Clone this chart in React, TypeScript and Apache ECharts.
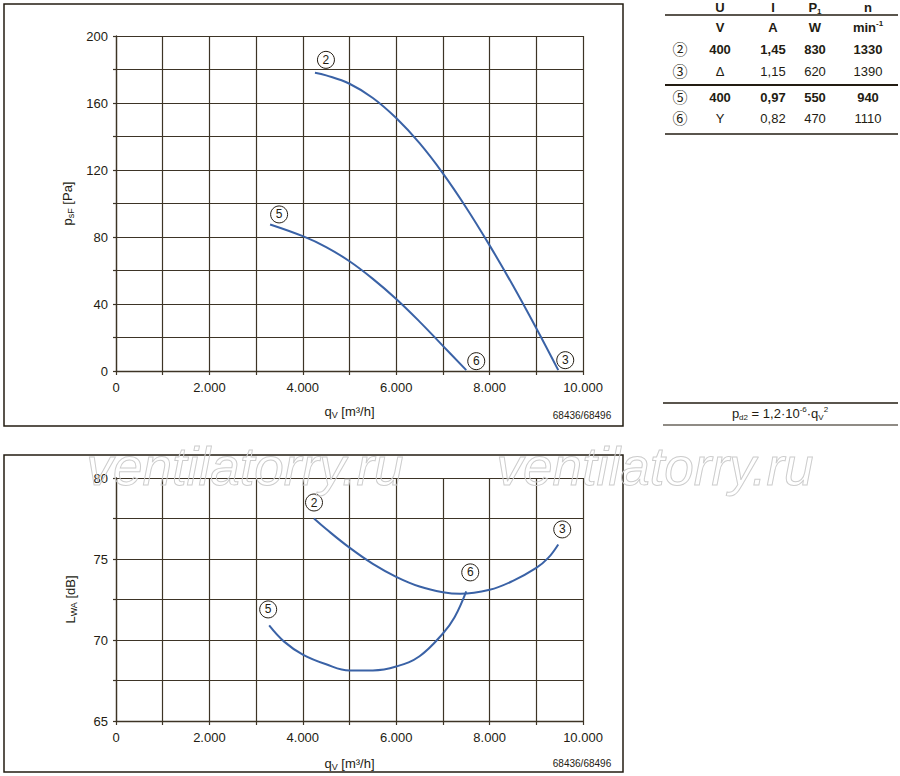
import React, { useEffect, useRef } from 'react';
import * as echarts from 'echarts';

// ---- data ----
const qCurve2Top = [4260, 4500, 5000, 5500, 6000, 6500, 7000, 7500, 8000, 8500, 9000, 9470];
const pCurve2Top = [178, 176.5, 171.5, 163, 151, 136, 118, 97.5, 75, 51, 25.5, 0.5];
const qCurve5Top = [3300, 4000, 4500, 5000, 5500, 6000, 6500, 7000, 7500];
const pCurve5Top = [87.5, 80.5, 74, 65.5, 55, 43, 29.5, 15, 0.5];

const qCurve2Bot = [4240, 4500, 5000, 5500, 6000, 6500, 7000, 7370, 8000, 8500, 9000, 9250, 9470];
const lCurve2Bot = [77.5, 76.85, 75.7, 74.7, 73.9, 73.3, 72.95, 72.85, 73.1, 73.65, 74.45, 75.05, 75.9];
const qCurve5Bot = [3280, 3600, 4000, 4500, 5000, 5500, 6000, 6500, 7000, 7250, 7500];
const lCurve5Bot = [70.9, 69.9, 69.1, 68.5, 68.12, 68.12, 68.36, 69.0, 70.4, 71.4, 73.0];

const tableMarks = ['②', '③', '⑤', '⑥'];
const tableU = ['400', 'Δ', '400', 'Y'];
const tableI = ['1,45', '1,15', '0,97', '0,82'];
const tableP = ['830', '620', '550', '470'];
const tableN = ['1330', '1390', '940', '1110'];
const tableBold = [true, false, true, false];

const drawingNo = '68436/68496';

const FONT = '"Liberation Sans", Arial, Helvetica, sans-serif';
const INK = '#231c12';
const GRIDC = '#3d3426';
const BLUE = '#3a62a6';

const zip = (a: number[], b: number[]) => a.map((v, i) => [v, b[i]]);
const fmtThousands = (v: number) => String(v).replace(/\B(?=(\d{3})+(?!\d))/g, '.');

function curve(name: string, xi: number, data: number[][], startLbl: string, endLbl: string, so: number[], eo: number[]) {
  return {
    type: 'line',
    name,
    xAxisIndex: xi,
    yAxisIndex: xi,
    data,
    smooth: 0.4,
    showSymbol: false,
    lineStyle: { color: BLUE, width: 2 },
    itemStyle: { color: BLUE },
    markPoint: {
      symbol: 'circle',
      symbolSize: 17,
      itemStyle: { color: '#fff', borderColor: INK, borderWidth: 1 },
      label: { show: true, position: 'inside', formatter: (p: any) => p.name, color: INK, fontSize: 12, fontFamily: FONT },
      data: [
        { name: startLbl, coord: data[0], symbolOffset: so },
        { name: endLbl, coord: data[data.length - 1], symbolOffset: eo },
      ],
    },
  };
}

export default function App() {
  const ref = useRef<HTMLDivElement>(null);
  useEffect(() => {
    const chart = echarts.init(ref.current!, null, { renderer: 'svg' });

    const xAxisBase = (gi: number) => ({
      type: 'value',
      gridIndex: gi,
      min: 0,
      max: 10000,
      interval: 1000,
      axisLine: { show: true, lineStyle: { color: GRIDC, width: 1.3 } },
      axisTick: { show: true, length: 4, lineStyle: { color: GRIDC, width: 1.2 } },
      splitLine: { show: true, lineStyle: { color: GRIDC, width: 1.2 } },
      axisLabel: {
        color: INK, fontSize: 13, fontFamily: FONT, margin: 10,
        formatter: (v: number) => (v % 2000 === 0 ? fmtThousands(v) : ''),
      },
      name: '{m|q}{s|V}{m| [m³/h]}',
      nameLocation: 'middle',
      nameGap: 32,
      nameTextStyle: {
        rich: {
          m: { fontSize: 13, fontFamily: FONT, color: INK, lineHeight: 16 },
          s: { fontSize: 9, fontFamily: FONT, color: INK, lineHeight: 10, verticalAlign: 'bottom' },
        },
      },
    });

    const yName = {
      nameLocation: 'middle',
      nameRotate: 90,
      nameGap: 38,
      nameTextStyle: {
        rich: {
          m: { fontSize: 13, fontFamily: FONT, color: INK, lineHeight: 16 },
          s: { fontSize: 9, fontFamily: FONT, color: INK, lineHeight: 10, verticalAlign: 'bottom' },
        },
      },
    };
    const yStyle = {
      axisLine: { show: true, lineStyle: { color: GRIDC, width: 1.3 } },
      axisTick: { show: true, length: 3, lineStyle: { color: GRIDC, width: 1.2 } },
      splitLine: { show: true, lineStyle: { color: GRIDC, width: 1.2 } },
    };

    const option: any = {
      animation: false,
      grid: [
        { left: 116, top: 36, width: 467, height: 335 },
        { left: 116, top: 478, width: 467, height: 243 },
      ],
      xAxis: [xAxisBase(0), { ...xAxisBase(1), nameGap: 34 }],
      yAxis: [
        {
          type: 'value', gridIndex: 0, min: 0, max: 200, interval: 20, ...yStyle, ...yName,
          axisLabel: { color: INK, fontSize: 13, fontFamily: FONT, margin: 8, formatter: (v: number) => (v % 40 === 0 ? String(v) : '') },
          name: '{m|p}{s|sF}{m| [Pa]}',
        },
        {
          type: 'value', gridIndex: 1, min: 65, max: 80, interval: 2.5, ...yStyle, ...yName,
          axisLabel: { color: INK, fontSize: 13, fontFamily: FONT, margin: 8, formatter: (v: number) => (v % 5 === 0 ? String(v) : '') },
          name: '{m|L}{s|WA}{m| [dB]}',
        },
      ],
      series: [
        curve('2-3 psF', 0, zip(qCurve2Top, pCurve2Top), '2', '3', [11, -13], [7, -10]),
        curve('5-6 psF', 0, zip(qCurve5Top, pCurve5Top), '5', '6', [9, -10], [10, -9]),
        curve('2-3 LWA', 1, zip(qCurve2Bot, lCurve2Bot), '2', '3', [0, -16], [4, -15]),
        curve('5-6 LWA', 1, zip(qCurve5Bot, lCurve5Bot), '5', '6', [-1, -16], [4, -19]),
      ],
      graphic: buildGraphics(),
    };
    chart.setOption(option);
    return () => chart.dispose();
  }, []);

  return <div ref={ref} style={{ position: 'absolute', left: 0, top: 0, width: 900, height: 776, background: '#fff' }} />;
}

function txt(x: number, y: number, text: string, opts: any = {}) {
  return {
    type: 'text', x, y, z: 50,
    style: {
      text, fontFamily: FONT, fontSize: 13, fill: INK, align: 'center', verticalAlign: 'middle', ...opts,
    },
  };
}
function hline(x1: number, x2: number, y: number, w = 1.3, color = INK) {
  return { type: 'line', z: 50, shape: { x1, y1: y, x2, y2: y }, style: { stroke: color, lineWidth: w } };
}

function buildGraphics() {
  const g: any[] = [];
  // frames
  g.push({ type: 'rect', z: 1, shape: { x: 4, y: 4, width: 619, height: 422 }, style: { fill: 'none', stroke: INK, lineWidth: 1.5 } });
  g.push({ type: 'rect', z: 1, shape: { x: 4, y: 455, width: 619, height: 317 }, style: { fill: 'none', stroke: INK, lineWidth: 1.5 } });
  // drawing numbers
  g.push(txt(582, 415, drawingNo, { fontSize: 10 }));
  g.push(txt(582, 763, drawingNo, { fontSize: 10 }));

  // table
  const cx = [680, 720, 773, 815, 868];
  const L = 665, R = 898;
  g.push(txt(cx[1], 7, 'U', { fontWeight: 'bold' }));
  g.push(txt(cx[2], 7, 'I', { fontWeight: 'bold' }));
  g.push({
    type: 'text', x: cx[3], y: 7, z: 50,
    style: {
      text: '{m|P}{s|1}', align: 'center', verticalAlign: 'middle',
      rich: {
        m: { fontSize: 13, fontWeight: 'bold', fontFamily: FONT, fill: INK, color: INK, lineHeight: 16 },
        s: { fontSize: 8, fontWeight: 'bold', fontFamily: FONT, fill: INK, color: INK, lineHeight: 12, verticalAlign: 'bottom' },
      },
    },
  });
  g.push(txt(cx[4], 7, 'n', { fontWeight: 'bold' }));
  g.push(hline(L, R, 15, 1.5));
  g.push(txt(cx[1], 27, 'V', { fontWeight: 'bold' }));
  g.push(txt(cx[2], 27, 'A', { fontWeight: 'bold' }));
  g.push(txt(cx[3], 27, 'W', { fontWeight: 'bold' }));
  g.push({
    type: 'text', x: cx[4], y: 27, z: 50,
    style: {
      text: '{m|min}{s|-1}', align: 'center', verticalAlign: 'middle',
      rich: {
        m: { fontSize: 13, fontWeight: 'bold', fontFamily: FONT, fill: INK, color: INK, lineHeight: 16 },
        s: { fontSize: 8, fontWeight: 'bold', fontFamily: FONT, fill: INK, color: INK, lineHeight: 10, verticalAlign: 'top' },
      },
    },
  });
  const rowY = [49, 71, 97, 118];
  tableMarks.forEach((m, i) => {
    const fw = tableBold[i] ? 'bold' : 'normal';
    const y = rowY[i];
    g.push(txt(cx[0], y, m, { fontFamily: FONT + ', "Noto Sans CJK JP", "DejaVu Sans"', fontSize: 15 }));
    g.push(txt(cx[1], y, tableU[i], { fontWeight: fw }));
    g.push(txt(cx[2], y, tableI[i], { fontWeight: fw }));
    g.push(txt(cx[3], y, tableP[i], { fontWeight: fw }));
    g.push(txt(cx[4], y, tableN[i], { fontWeight: fw }));
  });
  g.push(hline(L, R, 85, 1.8));
  g.push(hline(L, R, 134, 1.5));

  // formula
  g.push(hline(663, 898, 403, 1.3));
  g.push(hline(663, 898, 425, 1.3, '#6a655c'));
  g.push({
    type: 'text', x: 780, y: 413, z: 50,
    style: {
      text: '{m|p}{s|d2}{m| = 1,2·10}{u|-6}{m|·q}{s|V}{u|2}', align: 'center', verticalAlign: 'middle',
      rich: {
        m: { fontSize: 13, fontFamily: FONT, fill: INK, color: INK, lineHeight: 16 },
        s: { fontSize: 8, fontFamily: FONT, fill: INK, color: INK, lineHeight: 10, verticalAlign: 'bottom' },
        u: { fontSize: 8, fontFamily: FONT, fill: INK, color: INK, lineHeight: 10, verticalAlign: 'top' },
      },
    },
  });

  // watermarks
  [245, 655].forEach((x) => {
    g.push({
      type: 'text', x, y: 466, z: 100,
      style: {
        text: 'ventilatorry.ru', fontFamily: FONT, fontSize: 53, fontStyle: 'italic',
        fill: 'rgba(255,255,255,0)', stroke: '#cdcdcd', lineWidth: 1, align: 'center', verticalAlign: 'middle',
      },
    });
  });
  return g;
}
